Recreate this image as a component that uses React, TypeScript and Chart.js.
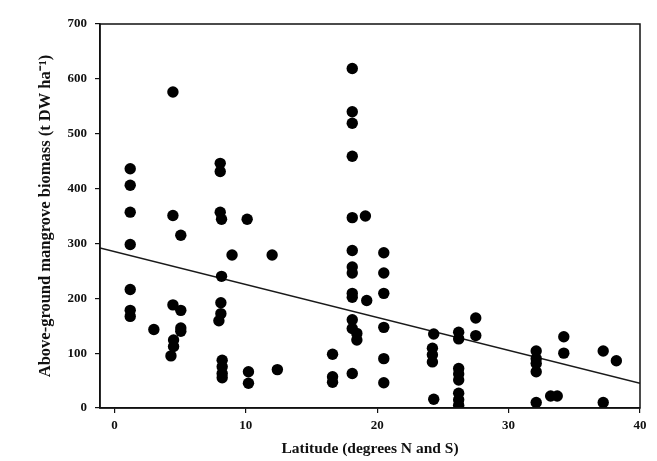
import React, { useEffect, useRef } from "react";
import { Chart, registerables } from "chart.js";

Chart.register(...registerables);

// Latitude (degrees N and S) of each site
const latitude = [
  1.2, 1.2, 1.2, 1.2, 1.2, 1.2, 1.2,
  3.0,
  4.45, 4.45, 4.45, 4.5, 4.5, 4.3,
  5.05, 5.05, 5.05, 5.05,
  8.05, 8.05, 8.05, 8.15, 8.15, 8.1, 8.1, 7.95, 8.2, 8.2, 8.2, 8.2,
  8.95,
  10.1, 10.2, 10.2,
  12.0, 12.4,
  16.6, 16.6, 16.6,
  18.1, 18.1, 18.1, 18.1, 18.1, 18.1, 18.1, 18.1, 18.1, 18.1, 18.1, 18.1, 18.1,
  18.45, 18.45,
  19.1, 19.2,
  20.5, 20.5, 20.5, 20.5, 20.5, 20.5,
  24.3, 24.2, 24.2, 24.2, 24.3,
  26.2, 26.2, 26.2, 26.2, 26.2, 26.2, 26.2, 26.2,
  27.5, 27.5,
  32.1, 32.1, 32.1, 32.1, 32.1,
  33.2, 33.7,
  34.2, 34.2,
  37.2, 37.2,
  38.2,
];

// Above-ground mangrove biomass (t DW ha-1)
const biomass = [
  436, 406, 357, 298, 216, 178, 167,
  143,
  576, 351, 188, 124, 112, 95,
  315, 178, 146, 140,
  446, 431, 357, 344, 240, 192, 172, 159, 87, 75, 63, 55,
  279,
  344, 66, 45,
  279, 70,
  98, 57, 47,
  619, 540, 519, 459, 347, 287, 257, 246, 209, 202, 161, 145, 63,
  136, 124,
  350, 196,
  283, 246, 209, 147, 90, 46,
  135, 109, 97, 84, 16,
  138, 126, 72, 62, 51, 27, 15, 5,
  164, 132,
  104, 90, 81, 66, 10,
  22, 22,
  130, 100,
  104, 10,
  86,
];

// Fitted regression line end points
const fitX = [-1.1, 40];
const fitY = [291.6, 45];

const xTicks = [0, 10, 20, 30, 40];
const yTicks = [0, 100, 200, 300, 400, 500, 600, 700];

const FONT = "'Liberation Serif', 'Times New Roman', serif";

const framePlugin = {
  id: "frame",
  afterDatasetsDraw(chart: any) {
    const { ctx, chartArea } = chart;
    ctx.save();
    ctx.strokeStyle = "#111";
    ctx.lineWidth = 1.5;
    ctx.strokeRect(chartArea.left, chartArea.top, chartArea.right - chartArea.left, chartArea.bottom - chartArea.top);
    ctx.restore();
  },
};

export default function App() {
  const ref = useRef<HTMLCanvasElement | null>(null);

  useEffect(() => {
    document.body.style.margin = "0";
    document.body.style.background = "#fff";
    const canvas = ref.current;
    if (!canvas) return;
    const points = latitude.map((x, i) => ({ x, y: biomass[i] }));
    const fit = fitX.map((x, i) => ({ x, y: fitY[i] }));
    const chart = new Chart(canvas, {
      type: "scatter",
      data: {
        datasets: [
          {
            label: "fit",
            data: fit,
            showLine: true,
            borderColor: "#1a1a1a",
            borderWidth: 1.6,
            pointRadius: 0,
            pointHoverRadius: 0,
            order: 2,
          },
          {
            label: "sites",
            data: points,
            backgroundColor: "#000",
            borderColor: "#000",
            borderWidth: 0,
            pointRadius: 5.7,
            pointHoverRadius: 5.7,
            order: 1,
          },
        ],
      },
      plugins: [framePlugin],
      options: {
        responsive: false,
        animation: false,
        events: [],
        layout: { padding: { left: 32, top: 24, right: 17, bottom: 0 } },
        plugins: {
          legend: { display: false },
          tooltip: { enabled: false },
        },
        scales: {
          x: {
            type: "linear",
            min: -1.1,
            max: 40,
            afterBuildTicks: (s: any) => {
              s.ticks = xTicks.map((v) => ({ value: v }));
            },
            afterFit: (s: any) => {
              s.height = 53;
            },
            grid: {
              display: true,
              drawOnChartArea: false,
              drawTicks: true,
              tickLength: 5,
              color: "#111",
              lineWidth: 1.2,
            },
            border: { display: true, color: "#111", width: 1.5 },
            ticks: {
              color: "#111",
              padding: 5,
              maxRotation: 0,
              font: { family: FONT, size: 13, weight: "bold" },
            },
            title: {
              display: true,
              text: "Latitude (degrees N and S)",
              color: "#111",
              padding: { top: 2, bottom: 3 },
              font: { family: FONT, size: 15.5, weight: "bold" },
            },
          },
          y: {
            type: "linear",
            min: 0,
            max: 700,
            afterBuildTicks: (s: any) => {
              s.ticks = yTicks.map((v) => ({ value: v }));
            },
            afterFit: (s: any) => {
              s.width = 68;
            },
            grid: {
              display: true,
              drawOnChartArea: false,
              drawTicks: true,
              tickLength: 5,
              color: "#111",
              lineWidth: 1.2,
            },
            border: { display: true, color: "#111", width: 1.5 },
            ticks: {
              color: "#111",
              padding: 8,
              font: { family: FONT, size: 13, weight: "bold" },
            },
            title: {
              display: true,
              text: "Above-ground mangrove biomass (t DW ha⁻¹)",
              color: "#111",
              padding: { top: 4, bottom: 4 },
              font: { family: FONT, size: 16.5, weight: "bold" },
            },
          },
        },
      },
    });
    return () => chart.destroy();
  }, []);

  return <canvas ref={ref} width={657} height={461} style={{ display: "block" }} />;
}
